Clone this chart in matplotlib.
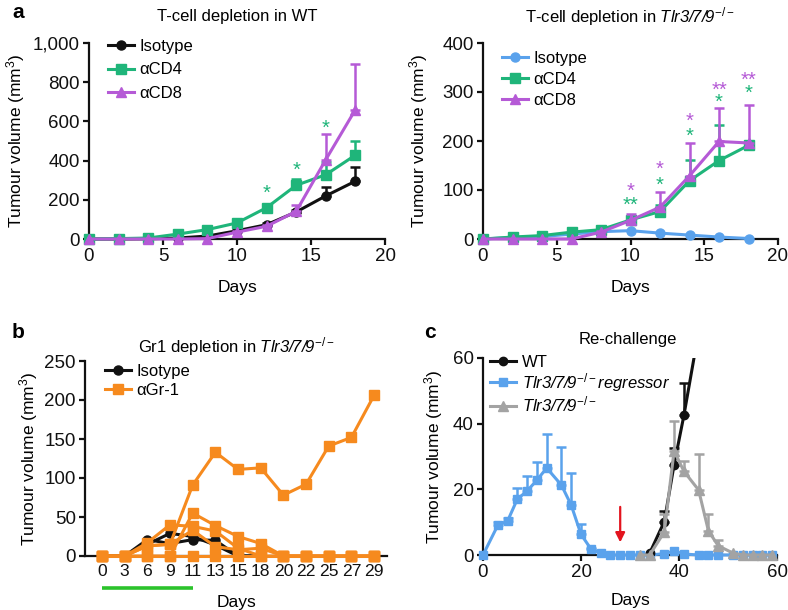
import matplotlib
matplotlib.use('Agg')
import matplotlib.pyplot as plt
import numpy as np
from matplotlib.ticker import FuncFormatter
from matplotlib.transforms import blended_transform_factory

plt.rcParams['font.family'] = ['Liberation Sans', 'DejaVu Sans']
plt.rcParams['mathtext.fontset'] = 'custom'
plt.rcParams['mathtext.rm'] = 'Liberation Sans'
plt.rcParams['mathtext.it'] = 'Liberation Sans:italic'
plt.rcParams['mathtext.sf'] = 'Liberation Sans:italic'
plt.rcParams['mathtext.bf'] = 'Liberation Sans:bold'
plt.rcParams['font.size'] = 12

BLACK = '#111111'
GREEN = '#1FB57A'
PURPLE = '#B55AD6'
BLUE = '#5AA2EC'
ORANGE = '#F68A1E'
GREY = '#A3A3A3'
RED = '#E3141E'
BARGREEN = '#2BC32B'

TICK_FS = 13.5
LAB_FS = 12.5
LEG_FS = 12
TITLE_FS = 12
STAR_FS = 14.5

# ---------------- data: panel a (WT) ----------------
days_a = [0, 2, 4, 6, 8, 10, 12, 14, 16, 18]
wt_iso = [0, 0, 1, 5, 15, 42, 73, 138, 220, 295]
wt_iso_err = [0, 0, 0, 0, 3, 5, 8, 10, 45, 70]
wt_cd4 = [0, 2, 5, 25, 48, 82, 160, 274, 328, 428]
wt_cd4_err = [0, 0, 0, 3, 5, 8, 15, 30, 63, 72]
wt_cd8 = [0, 0, 0, 0, 2, 35, 65, 141, 405, 660]
wt_cd8_err = [0, 0, 0, 0, 0, 5, 8, 34, 132, 233]
wt_star_days = [12, 14, 16]
wt_star_y = [262, 380, 594]

# ---------------- data: panel a (Tlr3/7/9-/-) ----------------
ko_iso = [0, 3, 5, 10, 15, 17, 12, 8, 4, 1]
ko_cd4 = [0, 4, 7, 14, 19, 39, 56, 119, 160, 191]
ko_cd4_err = [0, 0, 0, 0, 2, 5, 13, 43, 73, 4]
ko_cd8 = [0, 0, 0, 0, 14, 38, 65, 129, 199, 196]
ko_cd8_err = [0, 0, 0, 0, 2, 14, 31, 66, 68, 78]
ko_star_days = [10, 12, 14, 16, 18]
ko_star_cd8 = ['*', '*', '*', '**', '**']
ko_star_cd8_y = [110, 153, 252, 316, 336]
ko_star_cd4 = ['**', '*', '*', '*', '*']
ko_star_cd4_y = [81, 122, 222, 291, 310]

# ---------------- data: panel b ----------------
days_b = ['0', '3', '6', '9', '11', '13', '15', '18', '20', '22', '25', '27', '29']
gr1_mice = [
    [0, 0, 13, 15, 91, 133, 111, 113, 78, 92, 141, 152, 206],
    [0, 0, 17, 40, 38, 32, 10, 0, 0, 0, 0, 0, 0],
    [0, 0, 0, 0, 55, 39, 25, 16, 0, 0, 0, 0, 0],
    [0, 0, 13, 15, 33, 12, 8, 10, 0, 0, 0, 0, 0],
    [0, 0, 0, 0, 0, 0, 0, 0, 0, 0, 0, 0, 0],
]
iso_mice = [
    [0, 0, 21, 16, 21, 20, 0, 0],
    [0, 0, 15, 29, 25, 14, 0, 0],
]
treat_days = ['0', '11']

# ---------------- data: panel c ----------------
reg_days = [0, 3, 5, 7, 9, 11, 13, 16, 18, 20, 22, 24, 26, 28, 30, 32, 34, 37, 39, 41, 44, 46, 48, 51, 53, 55, 57, 59]
reg_vals = [0, 9, 10.3, 17, 19.5, 22.8, 26.5, 21.3, 15.2, 6.3, 1.9, 0.5, 0, 0, 0, 0, 0, 0.4, 1.2, 0.3, 0, 0, 0, 0, 0, 0, 0, 0]
reg_err = [0, 1, 1, 3.5, 4.5, 5.6, 10.5, 11.5, 9.8, 3.2, 0.3, 0, 0, 0, 0, 0, 0, 0, 0, 0, 0, 0, 0, 0, 0, 0, 0, 0]
wt_c_days = [34, 37, 39, 41, 44]
wt_c_vals = [0.5, 10.2, 27.5, 42.5, 68]
wt_c_err = [0, 3.3, 5, 10, 0]
ko_c_days = [32, 34, 37, 39, 41, 44, 46, 48, 51, 53, 55, 57, 59]
ko_c_vals = [0, 0, 7, 31.7, 25.5, 19.8, 7.4, 2.8, 0.6, 0, 0, 0, 0]
ko_c_err = [0, 0, 5.5, 9, 3, 11, 5, 1.7, 0, 0, 0, 0, 0]
rechallenge_day = 28

W, H = 788, 610
fig = plt.figure(figsize=(W / 100, H / 100), dpi=100)


def axes_px(x0, y0, x1, y1):
    return fig.add_axes([x0 / W, 1 - y1 / H, (x1 - x0) / W, (y1 - y0) / H])


def style(ax):
    for s in ['top', 'right']:
        ax.spines[s].set_visible(False)
    for s in ['left', 'bottom']:
        ax.spines[s].set_linewidth(1.6)
        ax.spines[s].set_color(BLACK)
    ax.tick_params(direction='out', length=4.5, width=1.6, labelsize=TICK_FS, pad=2, colors=BLACK)


def series(ax, x, y, err, color, marker, ms=6.5, z=3, clip=False):
    x = np.asarray(x, float)
    y = np.asarray(y, float)
    ln, = ax.plot(x, y, '-', color=color, marker=marker, ms=ms, lw=2.2, zorder=z,
                  clip_on=clip, mec=color, mfc=color)
    if err is not None:
        e = np.asarray(err, float)
        m = e > 0
        cont = ax.errorbar(x[m], y[m], yerr=[np.zeros(m.sum()), e[m]], fmt='none',
                           ecolor=color, elinewidth=1.8, capsize=3.8, capthick=1.8, zorder=z - 0.5)
        for art in cont.get_children():
            art.set_clip_on(clip)
    return ln


def legend(ax, handles, labels, x, y, spacing=0.35):
    ax.legend(handles, labels, loc='upper left', bbox_to_anchor=(x, y), frameon=False,
              handlelength=1.55, handletextpad=0.35, labelspacing=spacing, borderaxespad=0,
              fontsize=LEG_FS, borderpad=0)


def star(ax, x, y, s, color):
    ax.annotate(s, xy=(x, y), xytext=(0, -0.56 * STAR_FS), textcoords='offset points',
                ha='center', va='baseline', color=color, fontsize=STAR_FS)


def ylab(ax, xcoord):
    ax.set_ylabel('Tumour volume (mm$^3$)', fontsize=LAB_FS)
    ax.yaxis.set_label_coords(xcoord, 0.5)


# ---------------- panel a left ----------------
ax1 = axes_px(89, 43, 385, 239)
style(ax1)
h1 = series(ax1, days_a, wt_iso, wt_iso_err, BLACK, 'o', z=3)
h2 = series(ax1, days_a, wt_cd4, wt_cd4_err, GREEN, 's', z=4)
h3 = series(ax1, days_a, wt_cd8, wt_cd8_err, PURPLE, '^', ms=7, z=5)
for d, yy in zip(wt_star_days, wt_star_y):
    star(ax1, d, yy, '*', GREEN)
ax1.set_xlim(0, 20)
ax1.set_ylim(0, 1000)
ax1.set_xticks([0, 5, 10, 15, 20])
ax1.set_yticks(range(0, 1001, 200))
ax1.yaxis.set_major_formatter(FuncFormatter(lambda v, p: f'{int(v):,}'))
ax1.set_xlabel('Days', fontsize=LAB_FS, labelpad=10.5)
ylab(ax1, (27 - 89) / 296)
legend(ax1, [h1, h2, h3], ['Isotype', 'αCD4', 'αCD8'], 0.064, 1.02, spacing=0.5)
fig.text(237 / W, 1 - 17 / H, 'T-cell depletion in WT', ha='center', va='center', fontsize=TITLE_FS)

# ---------------- panel a right ----------------
ax2 = axes_px(483, 43, 778, 239)
style(ax2)
g1 = series(ax2, days_a, ko_iso, None, BLUE, 'o', z=3)
g2 = series(ax2, days_a, ko_cd4, ko_cd4_err, GREEN, 's', z=4)
g3 = series(ax2, days_a, ko_cd8, ko_cd8_err, PURPLE, '^', ms=7, z=5)
for d, s, yy in zip(ko_star_days, ko_star_cd8, ko_star_cd8_y):
    star(ax2, d, yy, s, PURPLE)
for d, s, yy in zip(ko_star_days, ko_star_cd4, ko_star_cd4_y):
    star(ax2, d, yy, s, GREEN)
ax2.set_xlim(0, 20)
ax2.set_ylim(0, 400)
ax2.set_xticks([0, 5, 10, 15, 20])
ax2.set_yticks(range(0, 401, 100))
ax2.set_xlabel('Days', fontsize=LAB_FS, labelpad=10.5)
ylab(ax2, (430 - 483) / 295)
legend(ax2, [g1, g2, g3], ['Isotype', 'αCD4', 'αCD8'], 0.064, 0.96, spacing=0.35)
fig.text(630 / W, 1 - 17 / H, r'T-cell depletion in $\mathsf{Tlr3/7/9}^{-/-}$', ha='center', va='center', fontsize=TITLE_FS)

# ---------------- panel b ----------------
ax3 = axes_px(85, 361, 387, 556)
style(ax3)
xb = np.arange(len(days_b))
hb_iso = None
for m in iso_mice:
    hb_iso = series(ax3, xb[:len(m)], m, None, BLACK, 'o', ms=6.5, z=3)
hb_gr = None
for m in gr1_mice:
    hb_gr = series(ax3, xb[:len(m)], m, None, ORANGE, 's', ms=6.5, z=4)
ax3.set_xlim(-0.75, len(days_b) - 1 + 0.57)
ax3.set_ylim(0, 250)
ax3.set_xticks(xb)
ax3.set_xticklabels(days_b)
ax3.set_yticks(range(0, 251, 50))
ax3.tick_params(axis='x', length=4, labelsize=12.6)
ax3.set_xlabel('Days', fontsize=LAB_FS, labelpad=11)
ylab(ax3, (40 - 85) / 302)
legend(ax3, [hb_iso, hb_gr], ['Isotype', 'αGr-1'], 0.066, 0.985, spacing=0.26)
tb = blended_transform_factory(ax3.transData, ax3.transAxes)
i0, i1 = days_b.index(treat_days[0]), days_b.index(treat_days[1])
ax3.plot([xb[i0], xb[i1]], [-0.162, -0.162], transform=tb, color=BARGREEN, lw=2.6, clip_on=False,
         solid_capstyle='butt')
fig.text(236 / W, 1 - 347 / H, r'Gr1 depletion in $\mathsf{Tlr3/7/9}^{-/-}$', ha='center', va='center', fontsize=TITLE_FS)

# ---------------- panel c ----------------
ax4 = axes_px(483, 358, 777, 555)
style(ax4)
c2 = series(ax4, reg_days, reg_vals, reg_err, BLUE, 's', ms=6, z=3)
c1 = series(ax4, wt_c_days, wt_c_vals, wt_c_err, BLACK, 'o', ms=6, z=4, clip=True)
c3 = series(ax4, ko_c_days, ko_c_vals, ko_c_err, GREY, '^', ms=7, z=5)
ax4.annotate('', xy=(rechallenge_day, 3), xytext=(rechallenge_day, 15.5),
             arrowprops=dict(arrowstyle='-|>', color=RED, lw=1.6, mutation_scale=14))
ax4.set_xlim(0, 60)
ax4.set_ylim(0, 60)
ax4.set_xticks([0, 20, 40, 60])
ax4.set_yticks([0, 20, 40, 60])
ax4.set_xlabel('Days', fontsize=LAB_FS, labelpad=8.6)
ylab(ax4, (445 - 483) / 294)
leg = ax4.legend([c1, c2, c3], ['WT', r'$\mathsf{Tlr3/7/9}^{-/-}\mathsf{regressor}$', r'$\mathsf{Tlr3/7/9}^{-/-}$'],
                 loc='upper left', bbox_to_anchor=(0.024, 1.015), frameon=False,
                 handlelength=1.55, handletextpad=0.35, labelspacing=0.05, borderaxespad=0,
                 fontsize=LEG_FS, borderpad=0)
leg.set_zorder(10)
fig.text(628 / W, 1 - 340 / H, 'Re-challenge', ha='center', va='center', fontsize=TITLE_FS)

# panel letters
fig.text(12 / W, 1 - 12 / H, 'a', fontsize=15, fontweight='bold', ha='left', va='center')
fig.text(12 / W, 1 - 333 / H, 'b', fontsize=15, fontweight='bold', ha='left', va='center')
fig.text(424 / W, 1 - 333 / H, 'c', fontsize=15, fontweight='bold', ha='left', va='center')

fig.savefig('out.png', dpi=100)
